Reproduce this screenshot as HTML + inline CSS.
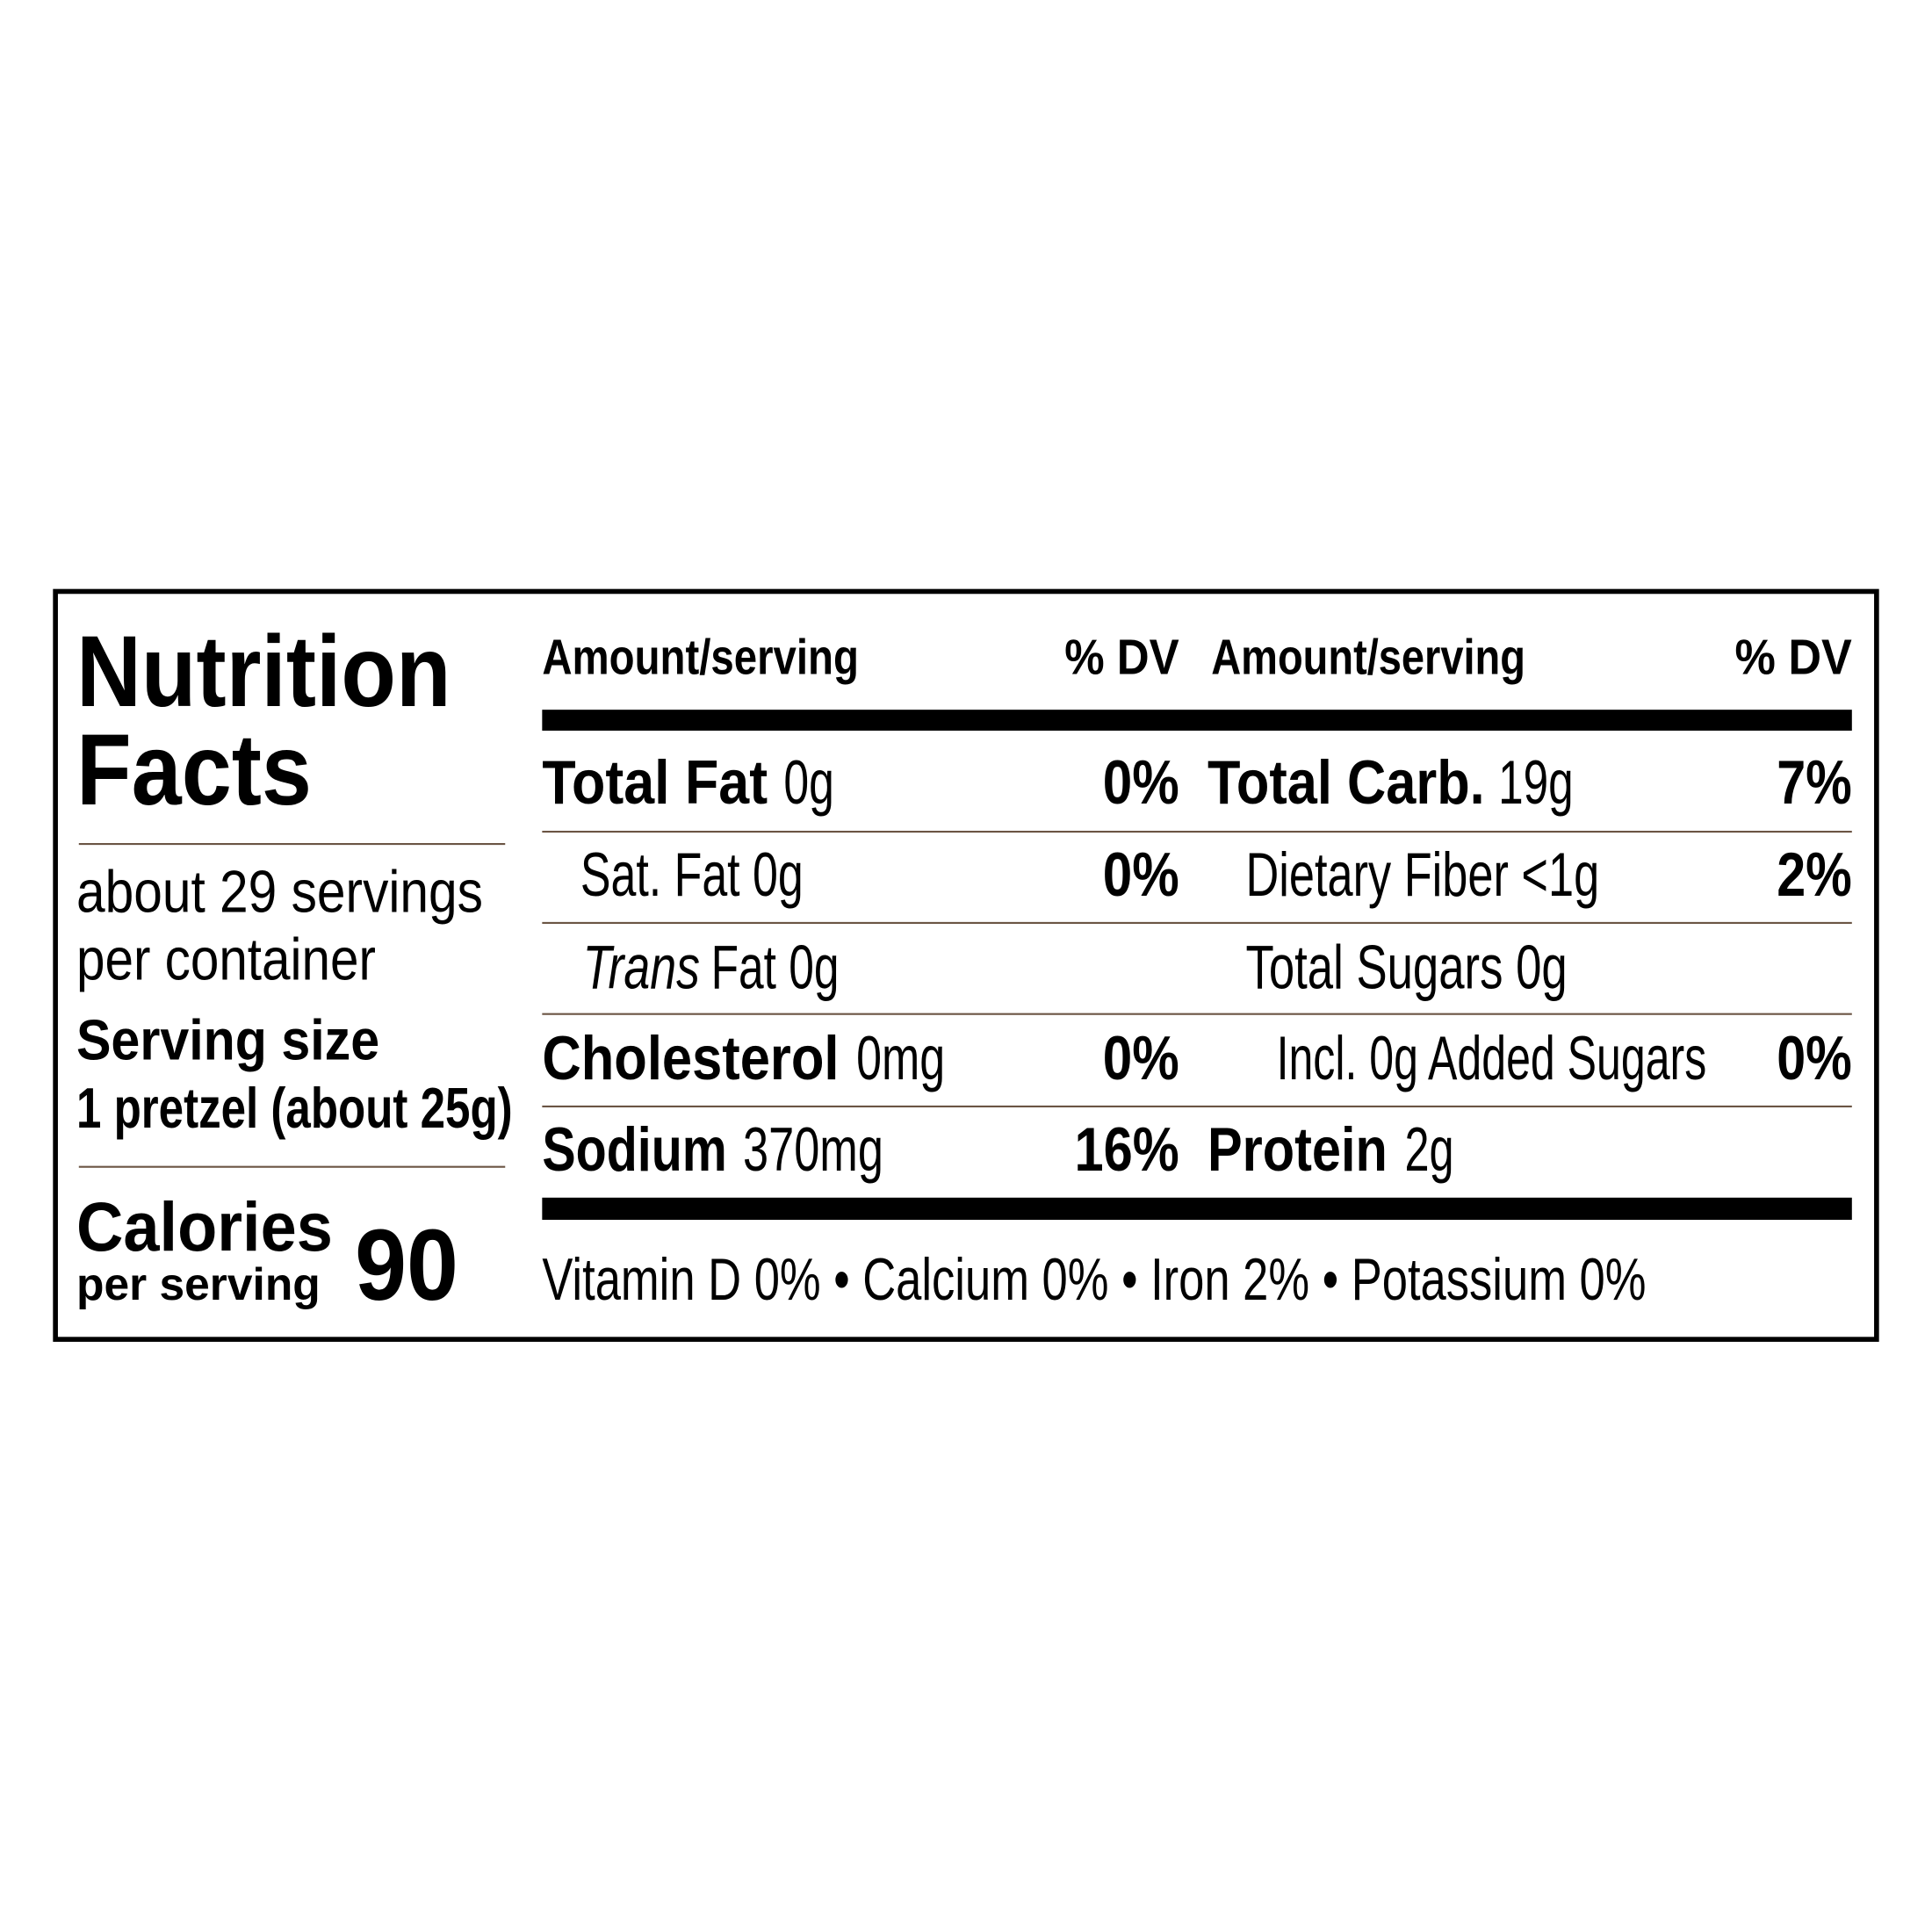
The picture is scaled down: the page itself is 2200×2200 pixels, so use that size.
<!DOCTYPE html>
<html><head><meta charset="utf-8"><style>html,body{margin:0;padding:0;background:#fff}svg{display:block}</style></head>
<body>
<svg width="2200" height="2200" viewBox="0 0 1568 1568" xmlns="http://www.w3.org/2000/svg" font-family="'Liberation Sans Narrow','Liberation Sans',sans-serif" fill="#000">
<rect x="0" y="0" width="1568" height="1568" fill="#fff"/>
<rect x="45" y="480" width="1478" height="607" fill="none" stroke="#000" stroke-width="4"/>
<g font-weight="bold">
<text x="62" y="573" font-size="82" textLength="304" lengthAdjust="spacingAndGlyphs">Nutrition</text>
<text x="62" y="653" font-size="82" textLength="191" lengthAdjust="spacingAndGlyphs">Facts</text>
</g>
<g stroke="#6b5544" stroke-width="1.5">
<line x1="64" y1="685" x2="410" y2="685"/>
<line x1="64" y1="947" x2="410" y2="947"/>
<line x1="440" y1="675" x2="1503" y2="675"/>
<line x1="440" y1="749" x2="1503" y2="749"/>
<line x1="440" y1="823" x2="1503" y2="823"/>
<line x1="440" y1="898" x2="1503" y2="898"/>
</g>
<text x="62" y="740" font-size="48" textLength="330" lengthAdjust="spacingAndGlyphs">about 29 servings</text>
<text x="62" y="795" font-size="48" textLength="243" lengthAdjust="spacingAndGlyphs">per container</text>
<text x="62" y="860" font-size="46" font-weight="bold" textLength="246" lengthAdjust="spacingAndGlyphs">Serving size</text>
<text x="62" y="915" font-size="46" font-weight="bold" textLength="354" lengthAdjust="spacingAndGlyphs">1 pretzel (about 25g)</text>
<text x="62" y="1015" font-size="56" font-weight="bold" textLength="208" lengthAdjust="spacingAndGlyphs">Calories</text>
<text x="62" y="1055" font-size="37" font-weight="bold" textLength="198" lengthAdjust="spacingAndGlyphs">per serving</text>
<text x="288" y="1055" font-size="82" font-weight="bold" textLength="84" lengthAdjust="spacingAndGlyphs">90</text>

<g font-size="40" font-weight="bold">
<text x="440" y="547" textLength="257" lengthAdjust="spacingAndGlyphs">Amount/serving</text>
<text x="864" y="547" textLength="93" lengthAdjust="spacingAndGlyphs">% DV</text>
<text x="983" y="547" textLength="255" lengthAdjust="spacingAndGlyphs">Amount/serving</text>
<text x="1408" y="547" textLength="95" lengthAdjust="spacingAndGlyphs">% DV</text>
</g>
<rect x="440" y="576" width="1063" height="17"/>
<rect x="440" y="972" width="1063" height="18"/>

<g font-size="50">
<text x="440" y="652" font-weight="bold" textLength="183" lengthAdjust="spacingAndGlyphs">Total Fat</text>
<text x="636" y="652" textLength="41" lengthAdjust="spacingAndGlyphs">0g</text>
<text x="895" y="652" font-weight="bold" textLength="62" lengthAdjust="spacingAndGlyphs">0%</text>
<text x="980" y="652" font-weight="bold" textLength="225" lengthAdjust="spacingAndGlyphs">Total Carb.</text>
<text x="1216" y="652" textLength="61" lengthAdjust="spacingAndGlyphs">19g</text>
<text x="1442" y="652" font-weight="bold" textLength="61" lengthAdjust="spacingAndGlyphs">7%</text>

<text x="471" y="727" textLength="181" lengthAdjust="spacingAndGlyphs">Sat. Fat 0g</text>
<text x="895" y="727" font-weight="bold" textLength="62" lengthAdjust="spacingAndGlyphs">0%</text>
<text x="1011" y="727" textLength="287" lengthAdjust="spacingAndGlyphs">Dietary Fiber &lt;1g</text>
<text x="1442" y="727" font-weight="bold" textLength="61" lengthAdjust="spacingAndGlyphs">2%</text>

<text x="473" y="802" font-style="italic" textLength="95" lengthAdjust="spacingAndGlyphs">Trans</text>
<text x="577" y="802" textLength="104" lengthAdjust="spacingAndGlyphs">Fat 0g</text>
<text x="1011" y="802" textLength="261" lengthAdjust="spacingAndGlyphs">Total Sugars 0g</text>

<text x="440" y="876" font-weight="bold" textLength="241" lengthAdjust="spacingAndGlyphs">Cholesterol</text>
<text x="695" y="876" textLength="72" lengthAdjust="spacingAndGlyphs">0mg</text>
<text x="895" y="876" font-weight="bold" textLength="62" lengthAdjust="spacingAndGlyphs">0%</text>
<text x="1036" y="876" textLength="349" lengthAdjust="spacingAndGlyphs">Incl. 0g Added Sugars</text>
<text x="1442" y="876" font-weight="bold" textLength="61" lengthAdjust="spacingAndGlyphs">0%</text>

<text x="440" y="950" font-weight="bold" textLength="150" lengthAdjust="spacingAndGlyphs">Sodium</text>
<text x="603" y="950" textLength="114" lengthAdjust="spacingAndGlyphs">370mg</text>
<text x="872" y="950" font-weight="bold" textLength="85" lengthAdjust="spacingAndGlyphs">16%</text>
<text x="980" y="950" font-weight="bold" textLength="146" lengthAdjust="spacingAndGlyphs">Protein</text>
<text x="1140" y="950" textLength="40" lengthAdjust="spacingAndGlyphs">2g</text>
</g>
<text x="440" y="1055" font-size="48" textLength="896" lengthAdjust="spacingAndGlyphs">Vitamin D 0% • Calcium 0% • Iron 2% • Potassium 0%</text>
</svg>
</body></html>
